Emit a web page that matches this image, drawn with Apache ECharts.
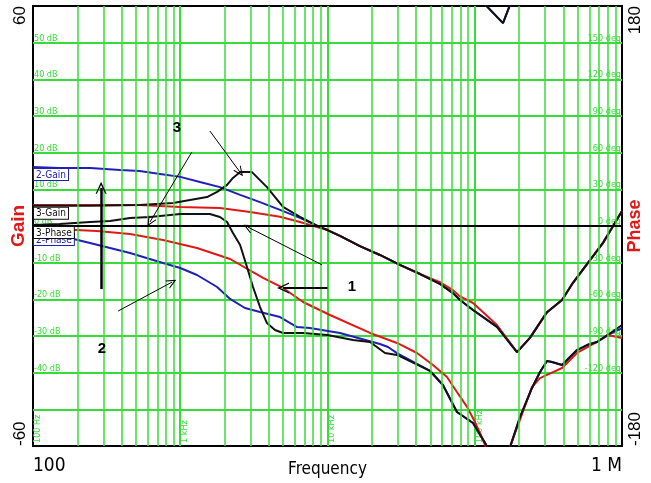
<!DOCTYPE html>
<html>
<head>
<meta charset="utf-8">
<script src="https://cdn.jsdelivr.net/npm/echarts@6/dist/echarts.min.js"></script>
<style>
  html, body { margin: 0; padding: 0; background: #fff; }
  #chart { width: 651px; height: 483px; }
</style>
</head>
<body>
<div id="chart"></div>
<script>
// ---- data (frequency in Hz, gain in dB, phase in deg) ----
const blueGainFreq = [100, 150, 245, 390, 530, 730, 1000, 1360, 1860, 2550, 3480, 4760, 6500, 8900]
const blueGain = [16.1, 15.8, 15.8, 15.3, 15.0, 14.2, 13.4, 12.0, 10.6, 8.5, 6.5, 4.4, 2.2, -0.3]
const redGainFreq = [100, 245, 530, 1000, 1860, 2980, 4760, 6500, 8490]
const redGain = [5.7, 5.7, 5.7, 5.2, 4.9, 3.8, 2.5, 1.1, -0.3]
const blackGainFreq = [100, 245, 530, 893, 1165, 1520, 1780, 2080, 2280, 2550, 3070, 3880, 4990, 6500, 8890]
const blackGain = [5.5, 5.5, 5.7, 6.3, 7.1, 7.9, 9.3, 11.2, 13.1, 14.7, 14.7, 10.6, 5.2, 2.5, -0.3]

// high frequency part shared by all gain curves
const tailFreq = [10000, 12150, 16600, 22700, 31000, 42500, 58000, 71100, 79400, 97300, 141600, 193600, 237000, 309500, 391500, 464500, 606500, 743000, 855700, 1000000]
const tailGain = [-1.1, -2.7, -5.5, -7.9, -10.6, -13.1, -15.8, -18.3, -20.2, -22.9, -27.5, -34.4, -30.5, -23.5, -20.2, -15.5, -9.3, -4.6, -0.5, 4.1]
const redTailGain = [-1.1, -2.7, -5.5, -7.9, -10.6, -13.1, -15.3, -17.5, -19.2, -21.0, -27.0, -34.4, -30.5, -23.5, -20.2, -15.5, -9.3, -4.6, -0.5, 4.1]

const blackPhaseFreq = [100, 152, 244, 333, 456, 623, 1000, 1590, 1860, 2080, 2280, 2550, 2840, 3120, 3480, 3880, 4400, 4990, 6820, 10000, 14900, 19440, 24580, 29650, 49700, 60800, 75700, 97300, 117500, 127000]
const blackPhase = [0.8, 1.6, 3.3, 4.1, 6.5, 7.4, 9.8, 9.8, 7.4, 3.3, -5.7, -15.5, -33.5, -49.9, -66.3, -79.4, -85.1, -87.5, -87.5, -89.2, -93.3, -94.9, -103.9, -105.5, -118.6, -130.1, -152.2, -161.2, -177.5, -184.9]
const bluePhaseFreq = [100, 146, 244, 456, 764, 1000, 1300, 1780, 2180, 2750, 3480, 4760, 6210, 7600, 12150, 22720, 25760, 29650, 49700, 60800, 75700, 97300, 117500, 127000]
const bluePhase = [-4.9, -7.4, -13.9, -22.1, -30.3, -34.4, -40.1, -49.9, -59.7, -67.1, -70.4, -74.5, -82.7, -83.5, -87.5, -96.5, -99.0, -104.0, -118.6, -130.1, -152.2, -161.2, -177.5, -184.9]
const redPhaseFreq = [100, 272, 456, 764, 1300, 2180, 3650, 4990, 6820, 10400, 19440, 29650, 40540, 52050, 64780, 75700, 88600, 100400, 108600, 117500, 123000]
const redPhase = [-1.6, -4.1, -6.5, -11.5, -18.0, -27.0, -42.5, -50.7, -62.2, -72.8, -87.5, -95.7, -103.9, -113.7, -123.5, -135.8, -148.0, -160.4, -169.4, -179.2, -184.9]

// phase after wrapping past -180 deg
const wrapTopFreq = [113800, 155500, 176300]
const wrapTopPhase = [183, 166, 183]
const blackRiseFreq = [173500, 202900, 244800, 277400, 309500, 334600, 391500, 494700, 578500, 676500, 855700, 1000000]
const blackRise = [-181, -156.3, -132.5, -119.5, -110.5, -111.3, -113.7, -101.5, -97.4, -94.9, -86.7, -81.0]
const blueRise = [-181, -156.3, -132.5, -119.5, -110.5, -111.3, -113.7, -101.5, -97.4, -94.9, -87.5, -83.5]
const redRiseFreq = [172000, 244800, 277400, 339700, 391500, 494700, 676500, 790700, 1000000]
const redRise = [-182, -131.7, -124.4, -119.5, -116.2, -103.9, -94.9, -89.2, -91.6]

// grid and axis labelling
const minorFreqs = [200, 300, 400, 500, 600, 700, 800, 900, 2000, 3000, 4000, 5000, 6000, 7000, 8000, 9000,
  20000, 30000, 40000, 50000, 60000, 70000, 80000, 90000, 200000, 300000, 400000, 500000, 600000, 700000, 800000, 900000]
const decadeNames = { 100: '100 Hz', 1000: '1 kHz', 10000: '10 kHz', 100000: '100 kHz' }

// annotations (data coordinates: Hz, dB)
const arrowFrom = [[290, -17.2], [1200, 20.2], [1590, 25.9], [9180, -10.6], [10000, -16.9], [378, -23.2]]
const arrowTo = [[290, 10.4], [623, 1.1], [2545, 14.7], [2884, -0.3], [4990, -16.9], [879, -15.3]]
const noteText = ['1', '2', '3']
const notePos = [[14670, -16.6], [294, -33.5], [950, 26.7]]

const GREEN = '#38dc38'
const BLUE = '#2020b8'
const RED = '#e01818'
const BLACK = '#111'
const NARROW = "'Liberation Sans Narrow', 'Arial Narrow', 'DejaVu Sans Condensed', sans-serif"
const SANS = "'Liberation Sans', Arial, sans-serif"

const pts = (f, v) => f.map((x, i) => [x, v[i]])

function curve(color, yAxisIndex, data, extra) {
  return Object.assign({
    type: 'line', xAxisIndex: 0, yAxisIndex, data,
    symbol: 'none', silent: true, animation: false, z: 3,
    lineStyle: { color, width: 2 }
  }, extra || {})
}

function tag(text, color, coord) {
  return {
    coord, symbol: 'rect', symbolSize: 0,
    label: {
      show: true, position: [1, 2], formatter: text, color,
      fontSize: 10, fontFamily: NARROW, backgroundColor: '#fff',
      borderColor: color, borderWidth: 1, padding: [1, 2, 0, 2]
    }
  }
}

const innerLabel = {
  inside: true, margin: 1, verticalAlign: 'bottom', fontSize: 9, color: GREEN, fontFamily: NARROW
}

const chart = echarts.init(document.getElementById('chart'), null, { renderer: 'canvas' })

const arrowHead = 'path://M0,12 L6,0 L12,12 L10.6,12 L6,3.2 L1.4,12 Z'
const arrowWidths = [2.5, 1, 1, 1, 2, 1]

chart.setOption({
  animation: false,
  backgroundColor: '#fff',
  grid: {
    left: 33, right: 29, top: 6, bottom: 37, outerBoundsMode: 'none', containLabel: false,
    show: true, borderColor: '#000', borderWidth: 2, backgroundColor: 'transparent'
  },
  xAxis: [
    {
      type: 'log', logBase: 10, min: 100, max: 1000000,
      name: 'Frequency', nameLocation: 'middle', nameGap: 15, nameMoveOverlap: false,
      nameTextStyle: { fontSize: 17, color: '#000', fontFamily: NARROW, verticalAlign: 'top' },
      axisLine: { show: false }, axisTick: { show: false },
      axisLabel: {
        fontSize: 19, color: '#000', fontFamily: NARROW, margin: 11,
        alignMinLabel: 'left', alignMaxLabel: 'right', showMinLabel: true, showMaxLabel: true,
        formatter: v => Math.round(v) === 100 ? '100' : Math.round(v) === 1000000 ? '1 M' : ''
      },
      splitLine: { show: true, showMinLine: false, showMaxLine: false, lineStyle: { color: GREEN, width: 2 } }
    },
    {
      type: 'log', logBase: 10, min: 100, max: 1000000, position: 'bottom',
      axisLine: { show: false }, axisTick: { show: false }, splitLine: { show: false },
      axisLabel: {
        inside: true, rotate: 90, margin: 3, align: 'left', verticalAlign: 'top',
        fontSize: 9, color: GREEN, fontFamily: NARROW,
        formatter: v => decadeNames[Math.round(v)] || ''
      }
    }
  ],
  yAxis: [
    {
      type: 'value', min: -60, max: 60, interval: 10, position: 'left',
      name: 'Gain', nameLocation: 'middle', nameRotate: 90, nameGap: 5, nameMoveOverlap: false,
      nameTextStyle: { fontSize: 19, fontWeight: 'bold', color: RED, fontFamily: SANS },
      axisLine: { show: false }, axisTick: { show: false },
      axisLabel: {
        rotate: 90, fontSize: 17, color: '#000', fontFamily: SANS, margin: 4,
        alignMinLabel: 'left', alignMaxLabel: 'right',
        formatter: v => (v === 60 || v === -60) ? String(v) : ''
      },
      splitLine: { show: true, showMinLine: false, showMaxLine: false, lineStyle: { color: GREEN, width: 2 } }
    },
    {
      type: 'value', min: -180, max: 180, interval: 30, position: 'right',
      name: 'Phase', nameLocation: 'middle', nameRotate: 90, nameGap: 4, nameMoveOverlap: false,
      nameTextStyle: { fontSize: 18, fontWeight: 'bold', color: RED, fontFamily: SANS },
      axisLine: { show: false }, axisTick: { show: false },
      axisLabel: {
        rotate: 90, fontSize: 17, color: '#000', fontFamily: SANS, margin: 5,
        alignMinLabel: 'left', alignMaxLabel: 'right',
        formatter: v => (v === 180 || v === -180) ? String(v) : ''
      },
      splitLine: { show: false }
    },
    {
      type: 'value', min: -60, max: 60, interval: 10, position: 'left',
      axisLine: { show: false }, axisTick: { show: false }, splitLine: { show: false },
      axisLabel: Object.assign({}, innerLabel, {
        formatter: v => (v >= -40 && v <= 50) ? v + ' dB' : ''
      })
    },
    {
      type: 'value', min: -180, max: 180, interval: 30, position: 'right',
      axisLine: { show: false }, axisTick: { show: false }, splitLine: { show: false },
      axisLabel: Object.assign({}, innerLabel, {
        formatter: v => (v >= -120 && v <= 150) ? v + ' deg' : ''
      })
    }
  ],
  series: [
    // minor log grid lines and the 0 dB line
    {
      type: 'line', xAxisIndex: 0, yAxisIndex: 0, data: [], z: 1, silent: true,
      markLine: {
        silent: true, symbol: 'none', label: { show: false }, animation: false,
        lineStyle: { color: GREEN, width: 1.5, type: 'solid' },
        data: minorFreqs.map(f => ({ xAxis: f }))
          .concat([{ yAxis: 0, lineStyle: { color: '#000', width: 2, type: 'solid' } }])
      }
    },
    curve(BLUE, 0, pts(blueGainFreq.concat(tailFreq), blueGain.concat(tailGain)), {
      markPoint: { silent: true, animation: false, data: [tag('2-Gain', BLUE, [100, 16.1])] }
    }),
    curve(RED, 0, pts(redGainFreq.concat(tailFreq), redGain.concat(redTailGain))),
    curve(BLACK, 0, pts(blackGainFreq.concat(tailFreq), blackGain.concat(tailGain)), {
      markPoint: { silent: true, animation: false, data: [tag('3-Gain', BLACK, [100, 5.5])] }
    }),
    curve(BLUE, 1, pts(bluePhaseFreq, bluePhase), {
      markPoint: { silent: true, animation: false, data: [tag('2-Phase', BLUE, [100, -4.9])] }
    }),
    curve(BLUE, 1, pts(wrapTopFreq, wrapTopPhase)),
    curve(BLUE, 1, pts(blackRiseFreq, blueRise)),
    curve(RED, 1, pts(redPhaseFreq, redPhase)),
    curve(RED, 1, pts(redRiseFreq, redRise)),
    curve(BLACK, 1, pts(blackPhaseFreq, blackPhase), {
      markPoint: { silent: true, animation: false, data: [tag('3-Phase', BLACK, [100, 0.8])] }
    }),
    curve(BLACK, 1, pts(wrapTopFreq, wrapTopPhase)),
    curve(BLACK, 1, pts(blackRiseFreq, blackRise)),
    // arrows and numbers
    {
      type: 'line', xAxisIndex: 0, yAxisIndex: 0, data: [], z: 6, silent: true,
      markLine: {
        silent: true, animation: false, label: { show: false },
        data: arrowFrom.map((a, i) => [
          { coord: a, symbol: 'none', lineStyle: { color: '#000', width: arrowWidths[i], type: 'solid' } },
          { coord: arrowTo[i], symbol: arrowHead, symbolSize: arrowWidths[i] > 1.5 ? [11, 12] : [9, 10] }
        ])
      },
      markPoint: {
        silent: true, animation: false,
        data: noteText.map((t, i) => ({
          coord: notePos[i], symbol: 'circle', symbolSize: 1, itemStyle: { color: 'transparent' },
          label: { show: true, position: 'inside', formatter: t, fontSize: 15, fontWeight: 'bold', color: '#000', fontFamily: SANS }
        }))
      }
    }
  ]
})
</script>
</body>
</html>
